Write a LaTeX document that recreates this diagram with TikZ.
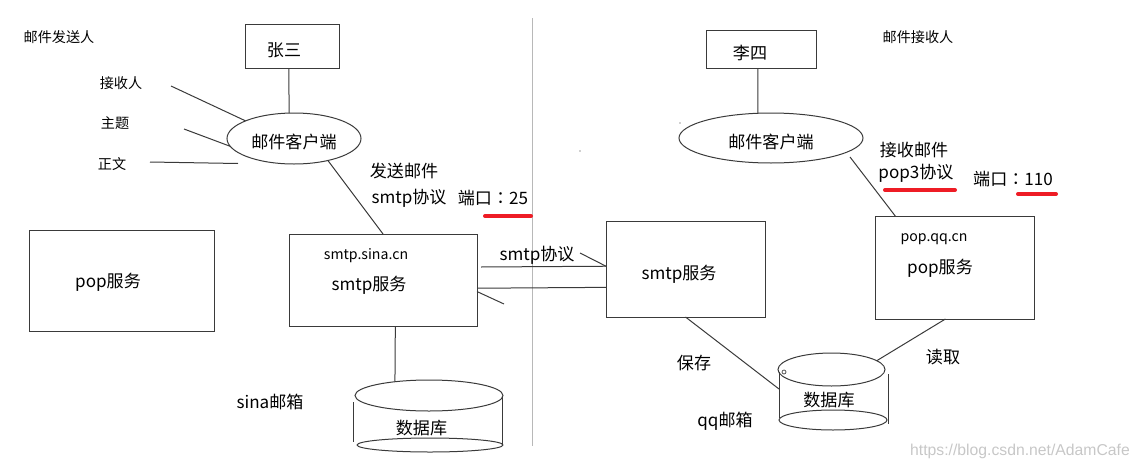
\documentclass[tikz,border=0pt]{standalone}
\usepackage{fontspec}
\setmainfont{Noto Sans CJK SC}
\setsansfont{Liberation Sans}
\newfontfamily\colonfont{Noto Sans CJK TC}
\usetikzlibrary{shapes.geometric}
\definecolor{linegray}{HTML}{3A3A3A}
\definecolor{markred}{HTML}{EE1C25}
\tikzset{
  lin/.style={draw=linegray,line width=0.75pt},
  boxn/.style={lin,rectangle,inner sep=0pt,outer sep=0pt},
  elli/.style={lin,ellipse,inner sep=0pt,outer sep=0pt},
  big/.style={font=\fontsize{12.8pt}{14pt}\selectfont,inner sep=0pt},
  small/.style={font=\fontsize{10.6pt}{12pt}\selectfont,inner sep=0pt},
  redmark/.style={draw=markred,line width=3pt,line cap=round}
}
\begin{document}
\begin{tikzpicture}[x=0.75pt,y=-0.75pt]
  \useasboundingbox (0,0) rectangle (1139,468);
  % divider
  \coordinate (divtop) at (532,18);
  \coordinate (divbot) at (532,446);
  \draw[draw=black!28,line width=0.75pt] (divtop) -- (divbot);
  % sender side
  \node[boxn,minimum width=70.5pt,minimum height=33pt] (zhangsan) at (292,46) {};
  \node[big] (zhangsantext) at (284,50) {张三};
  \node[elli,minimum width=100.5pt,minimum height=38.25pt] (clienta) at (294,138.5) {};
  \node[big] (clientatext) at (294,142) {邮件客户端};
  \node[small] (sendertext) at (59,37) {邮件发送人};
  \node[small] (recvtext) at (121,83) {接收人};
  \node[small] (subjtext) at (115,123) {主题};
  \node[small] (bodytext) at (112,164) {正文};
  \coordinate (recvend) at (171,86);
  \coordinate (subjend) at (184,129);
  \coordinate (bodyend) at (150,162);
  \coordinate (bodyend2) at (238,163.5);
  \draw[lin] (zhangsan.262) -- (clienta.101);
  \draw[lin] (recvend) -- (clienta.160);
  \draw[lin] (subjend) -- (clienta.187);
  \draw[lin] (bodyend) -- (bodyend2);
  % servers left
  \node[boxn,minimum width=138.75pt,minimum height=75.75pt] (popa) at (121.5,280.5) {};
  \node[big] (popatext) at (108,282) {pop服务};
  \node[boxn,minimum width=141pt,minimum height=69pt] (sina) at (383,280) {};
  \node[small] (sinahost) at (366,256) {smtp.sina.cn};
  \node[big] (sinatext) at (369,285) {smtp服务};
  \node[big] (sendtext) at (404,171) {发送邮件};
  \node[big] (sendproto) at (409,198) {smtp协议};
  \node[big] (porta) at (493,198) {端口{\colonfont ：}25};
  \draw[lin] (clienta.-33) -- (sina.north);
  \coordinate (portastart) at (485,216);
  \coordinate (portaend) at (531,216);
  \draw[redmark] (portastart) -- (portaend);
  % link between servers
  \node[boxn,minimum width=119.25pt,minimum height=72pt] (smtpq) at (685.5,269) {};
  \node[big] (smtpqtext) at (679,274) {smtp服务};
  \node[big] (linktext) at (537,255) {smtp协议};
  \coordinate (linkstart) at (481,267);
  \coordinate (headup) at (580,253);
  \coordinate (headdown) at (504,304);
  \draw[lin] (linkstart) -- (smtpq.178.6);
  \draw[lin] (headup) -- (smtpq.178.6);
  \draw[lin] (sina.-5.2) -- (smtpq.193.8);
  \draw[lin] (sina.-7.3) -- (headdown);
  % database left
  \node[elli,minimum width=111pt,minimum height=23.25pt] (cyla) at (429,395.5) {};
  \node[elli,minimum width=109.5pt,minimum height=10.5pt] (cylabot) at (430,445) {};
  \coordinate (cylal1) at (353.7,402);
  \coordinate (cylal2) at (353.7,442);
  \coordinate (cylar1) at (502,397);
  \coordinate (cylar2) at (502,445);
  \draw[lin] (cylal1) -- (cylal2);
  \draw[lin] (cylar1) -- (cylar2);
  \draw[lin] (sina.-75.4) -- (cyla.158);
  \node[big] (cylatext) at (421.5,428) {数据库};
  \node[big] (sinabox) at (270,402) {sina邮箱};
  % receiver side
  \node[boxn,minimum width=82.5pt,minimum height=28.5pt] (lisi) at (761,49) {};
  \node[big] (lisitext) at (750,53) {李四};
  \node[elli,minimum width=138pt,minimum height=37.5pt] (clientb) at (771,138) {};
  \node[big] (clientbtext) at (771,142) {邮件客户端};
  \node[small] (receivertext) at (918,37) {邮件接收人};
  \draw[lin] (lisi.261) -- (clientb.118);
  \node[boxn,minimum width=119.25pt,minimum height=77.25pt] (popq) at (954.5,267.5) {};
  \node[small] (qqhost) at (934,239) {pop.qq.cn};
  \node[big] (popqtext) at (940,268) {pop服务};
  \node[big] (recvmail) at (914,150) {接收邮件};
  \node[big] (recvproto) at (916,173) {pop3协议};
  \node[big] (portb) at (1013,179) {端口{\colonfont ：}110};
  \coordinate (clientbout) at (850,157);
  \draw[lin] (clientbout) -- (popq.139.6);
  \coordinate (protostart) at (885,190);
  \coordinate (protoend) at (955,190);
  \coordinate (portbstart) at (1018,194);
  \coordinate (portbend) at (1056,194);
  \draw[redmark] (protostart) -- (protoend);
  \draw[redmark] (portbstart) -- (portbend);
  % database right
  \node[elli,minimum width=80.25pt,minimum height=24.75pt] (cylb) at (831.5,369.5) {};
  \node[elli,minimum width=81pt,minimum height=15pt] (cylbbot) at (833,420) {};
  \coordinate (cylbl1) at (779,372);
  \coordinate (cylbl2) at (779,418);
  \coordinate (cylbr1) at (888,374);
  \coordinate (cylbr2) at (888,424);
  \coordinate (cylbhit) at (779,389);
  \draw[lin] (cylbl1) -- (cylbl2);
  \draw[lin] (cylbr1) -- (cylbr2);
  \draw[lin] (smtpq.south) -- (cylbhit);
  \draw[lin] (popq.260.6) -- (cylb.11);
  \draw[lin,line width=0.5pt] (784,372) circle (2);
  \node[big] (cylbtext) at (829,400) {数据库};
  \node[big] (savetext) at (694,363) {保存};
  \node[big] (readtext) at (943,357) {读取};
  \node[big] (qqbox) at (725,421) {qq邮箱};
  % stray dots
  \fill[linegray] (680,123) circle (0.7);
  \fill[linegray] (580,151) circle (0.7);
  % watermark
  \node[font=\sffamily\fontsize{11.8pt}{13pt}\selectfont,text=black!22,inner sep=0pt] (mark) at (1020,451) {https://blog.csdn.net/AdamCafe};
\end{tikzpicture}
\end{document}
